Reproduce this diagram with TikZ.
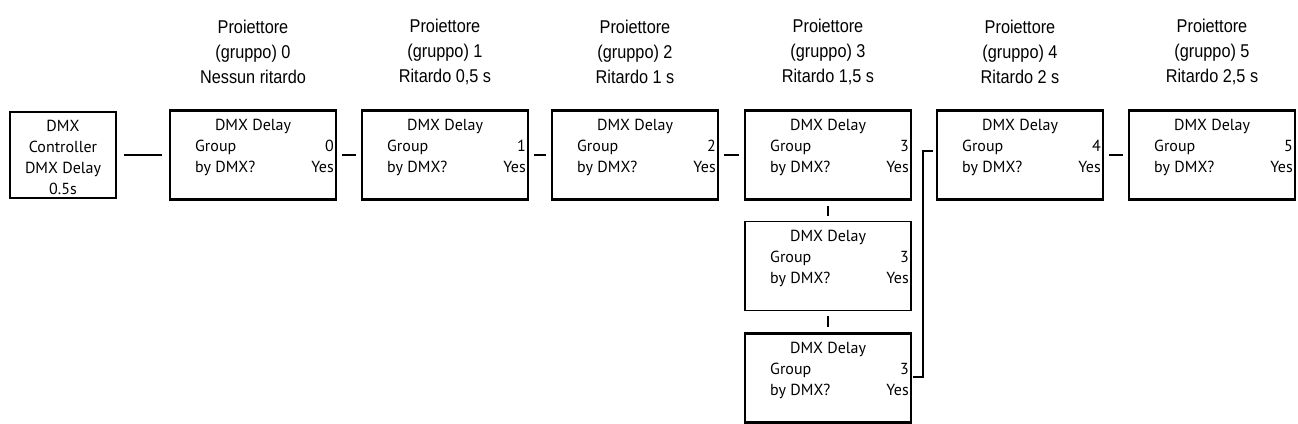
\documentclass[tikz,border=0pt]{standalone}
\usepackage{fontspec}
\setmainfont{Liberation Sans}[FakeStretch=0.88]
\newfontfamily\boxfont{PT Sans}
\begin{document}
\begin{tikzpicture}[x=1pt,y=-1pt,
  box/.style={draw,line width=2.6pt},
  thinbox/.style={draw,line width=1.6pt},
  t/.style={font=\boxfont\fontsize{16}{16}\selectfont,inner sep=0pt,anchor=base},
  ttl/.style={font=\fontsize{18.5}{25}\selectfont,align=center,inner sep=0pt},
  con/.style={line width=2.8pt},
  thin/.style={line width=1.6pt}]
\useasboundingbox (0,0) rectangle (1298,423);
% controller
\node[box,minimum width=106pt,minimum height=86pt,inner sep=0pt] (c) at (63,155) {};
\foreach \s/\y in {DMX/131,Controller/152,DMX Delay/173,0.5s/194}
  \node[t] at (63,\y) {\s};
\foreach \i/\x/\yy/\st in {0/253/155/box,1/445/155/box,2/635/155/box,3/828/155/box,4/1020/155/box,5/1212/155/box,a/828/266/thinbox,b/828/378/box}{
  \node[\st,minimum width=166pt,minimum height=89pt,inner sep=0pt] (b\i) at (\x,\yy) {};
  \node[t] at (\x,\yy-25) {DMX Delay};
  \node[t,anchor=base west] at (\x-58,\yy-4) {Group};
  \node[t,anchor=base west] at (\x-58,\yy+17) {by DMX?};
  \node[t,anchor=base east] at (\x+81,\yy+17) {Yes};
}
\node[t,anchor=base east] at (253+81,151) {0};
\node[t,anchor=base east] at (445+81,151) {1};
\node[t,anchor=base east] at (635+81,151) {2};
\node[t,anchor=base east] at (828+81,151) {3};
\node[t,anchor=base east] at (1020+81,151) {4};
\node[t,anchor=base east] at (1212+81,151) {5};
\node[t,anchor=base east] at (828+81,262) {3};
\node[t,anchor=base east] at (828+81,374) {3};
% titles
\node[ttl] at (253,52) {Proiettore\\(gruppo) 0\\Nessun ritardo};
\node[ttl] at (445,52) {Proiettore\\(gruppo) 1\\Ritardo 0,5 s};
\node[ttl] at (635,52) {Proiettore\\(gruppo) 2\\Ritardo 1 s};
\node[ttl] at (828,52) {Proiettore\\(gruppo) 3\\Ritardo 1,5 s};
\node[ttl] at (1020,52) {Proiettore\\(gruppo) 4\\Ritardo 2 s};
\node[ttl] at (1212,52) {Proiettore\\(gruppo) 5\\Ritardo 2,5 s};
% connectors
\draw[con] ([xshift=7pt]c.east) -- ([xshift=-7pt]b0.west);
\draw[con] ([xshift=5pt]b0.east) -- ([xshift=-5pt]b1.west);
\draw[con] ([xshift=5pt]b1.east) -- ([xshift=-5pt]b2.west);
\draw[con] ([xshift=5pt]b2.east) -- ([xshift=-5pt]b3.west);
\draw[con] ([xshift=5pt]b4.east) -- ([xshift=-5pt]b5.west);
\draw[thin] ([yshift=-5pt]b3.south) -- ([yshift=5pt]ba.north);
\draw[thin] ([yshift=-5pt]ba.south) -- ([yshift=5pt]bb.north);
\coordinate (e) at (933,151);
\draw[thin] (bb.east |- 0,377) ++(1,0) -| (923,151) -- (e);
\end{tikzpicture}
\end{document}
